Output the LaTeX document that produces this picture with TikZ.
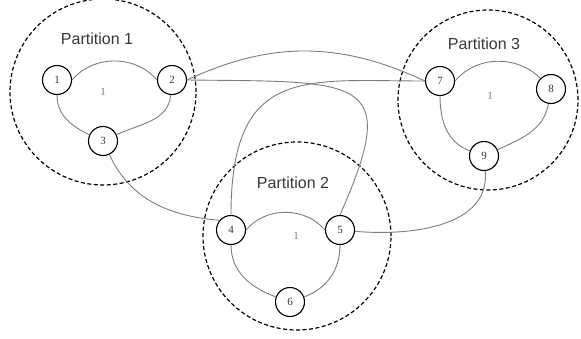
\documentclass[tikz,border=0pt]{standalone}
\usepackage{fontspec}
\setmainfont{Liberation Serif}
\setsansfont{Liberation Sans}
\usepackage{tikz}
\definecolor{EdgeGray}{RGB}{125,125,125}
\definecolor{TextGray}{RGB}{55,55,55}

\begin{document}
\begin{tikzpicture}[x=1pt, y=1pt,
    part/.style={draw, circle, dash pattern=on 4pt off 2.5pt, line width=1.2pt, inner sep=0pt},
    vertex/.style={draw, circle, line width=1.1pt, minimum size=29pt, inner sep=0pt, text=TextGray, font=\fontsize{11}{11}\selectfont},
    link/.style={draw=EdgeGray, line width=0.9pt},
    partname/.style={text=TextGray, font=\sffamily\fontsize{16}{16}\selectfont},
    weight/.style={text=EdgeGray, font=\fontsize{11}{11}\selectfont}]
      \useasboundingbox (0,0) rectangle (581,-338);

      % partitions
      \node[part, minimum size=186pt] (p1) at (103, -92) {};
      \node[part, minimum size=188pt] (p2) at (297,-236) {};
      \node[part, minimum size=180pt] (p3) at (488,-100) {};

      \node[partname] (p1name) at ( 97, -39) {Partition 1};
      \node[partname] (p2name) at (293,-183) {Partition 2};
      \node[partname] (p3name) at (484, -44) {Partition 3};

      % vertices
      \node[vertex] (n1) at ( 57, -80) {1};
      \node[vertex] (n2) at (172, -80) {2};
      \node[vertex] (n3) at (103,-141) {3};
      \node[vertex] (n4) at (231,-230) {4};
      \node[vertex] (n5) at (340,-230) {5};
      \node[vertex] (n6) at (290,-302) {6};
      \node[vertex] (n7) at (440, -81) {7};
      \node[vertex] (n8) at (551, -89) {8};
      \node[vertex] (n9) at (484,-156) {9};

      \node[weight] (w1) at (103, -92) {1};
      \node[weight] (w2) at (296,-236) {1};
      \node[weight] (w3) at (490, -96) {1};

      % edges inside the partitions
      \draw[link] (n1.east)  to[out=50, in=130] (n2.west);
      \draw[link] (n1)       to[out=-90,in=155] (n3);
      \draw[link] (n2)       to[out=-95,in=25 ] (n3);
      \draw[link] (n4.east)  to[out=50, in=130] (n5.west);
      \draw[link] (n4)       to[out=-90,in=160] (n6);
      \draw[link] (n5)       to[out=-90,in=20 ] (n6);
      \draw[link] (n7.east)  to[out=50, in=135] (n8);
      \draw[link] (n7)       to[out=-90,in=160] (n9);
      \draw[link] (n8)       to[out=-100,in=25] (n9);

      % edges between the partitions
      \draw[link] (n2.east)  to[out=25, in=155] (n7.west);
      \draw[link] (n2.east)  .. controls +(175,-2) and +(62,140) .. (n5.north);
      \draw[link] (n4.north) .. controls +(0,150) and +(-120,0) .. (n7.west);
      \draw[link] (n3)       to[out=-65,in=175] (n4.140);
      \draw[link] (n5)       to[out=-5, in=-85] (n9);
    \end{tikzpicture}
\end{document}
